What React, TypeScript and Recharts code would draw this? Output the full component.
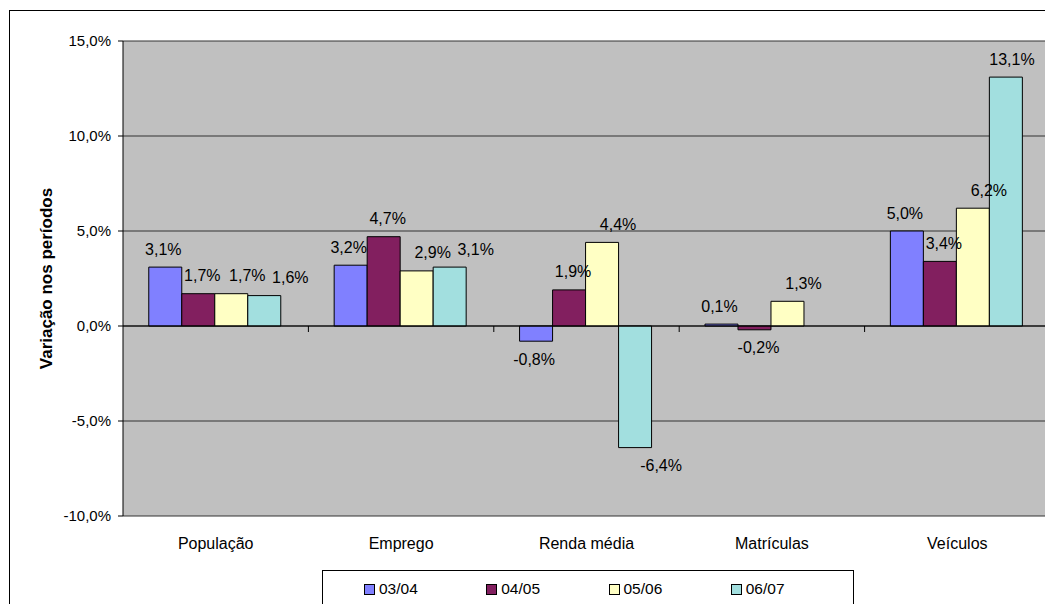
import {
  BarChart,
  Bar,
  XAxis,
  YAxis,
  CartesianGrid,
  Legend,
  LabelList,
  ReferenceLine,
} from "recharts";

const categories = ["População", "Emprego", "Renda média", "Matrículas", "Veículos"];
const periods = ["03/04", "04/05", "05/06", "06/07"];
const v0304 = [3.1, 3.2, -0.8, 0.1, 5.0];
const v0405 = [1.7, 4.7, 1.9, -0.2, 3.4];
const v0506 = [1.7, 2.9, 4.4, 1.3, 6.2];
const v0607 = [1.6, 3.1, -6.4, 0.0, 13.1];
const yTicks = [-10, -5, 0, 5, 10, 15];

const colors = ["#8080FF", "#821F5F", "#FFFFC4", "#A2DFDF"];
// the source drifts its labels rightwards series by series
const labelShift = [-2, 4, 16, 26];
const FONT = '"Liberation Sans", Arial, sans-serif';

const seriesValues = [v0304, v0405, v0506, v0607];
const keys = ["p0", "p1", "p2", "p3"];

const data = categories.map((name, i) => {
  const row: Record<string, string | number> = { name };
  seriesValues.forEach((vals, s) => {
    row[keys[s]] = vals[i];
  });
  return row;
});

const pct = (v: number) => v.toFixed(1).replace(".", ",") + "%";

const makeLabel = (s: number) => (props: any) => {
  const { x, y, width, height, value } = props;
  const top = Math.min(y, y + height);
  const bottom = Math.max(y, y + height);
  const cy = value < 0 ? bottom + 18 : top - 18;
  // keep the last label inside the visible frame
  const cx = Math.min(x + width / 2 + labelShift[s], 1012);
  return (
    <text
      x={cx}
      y={cy}
      textAnchor="middle"
      dominantBaseline="central"
      fontSize={16}
      fontFamily={FONT}
      fill="#000"
    >
      {pct(value)}
    </text>
  );
};

const ZeroAxis = (props: any) => {
  const { x1, y1, x2, y2 } = props;
  const step = (x2 - x1) / categories.length;
  return (
    <g>
      <line x1={x1} y1={y1} x2={x2} y2={y2} stroke="#000" strokeWidth={1} />
      {categories.map((_, k) => (
        <line
          key={k}
          x1={x1 + (k + 1) * step}
          x2={x1 + (k + 1) * step}
          y1={y1}
          y2={y1 + 6}
          stroke="#000"
        />
      ))}
    </g>
  );
};

const AxisTitle = (props: any) => {
  const { viewBox } = props;
  const cx = viewBox.x + 46;
  const cy = viewBox.y + viewBox.height / 2;
  return (
    <text
      x={cx}
      y={cy}
      transform={`rotate(-90 ${cx} ${cy})`}
      textAnchor="middle"
      dominantBaseline="central"
      fontSize={17}
      fontWeight="bold"
      fontFamily={FONT}
      fill="#000"
    >
      Variação nos períodos
    </text>
  );
};

const LegendBox = () => (
  <div
    style={{
      border: "1px solid #000",
      height: 50,
      boxSizing: "border-box",
      paddingLeft: 41,
      paddingTop: 8,
      display: "flex",
      background: "#fff",
    }}
  >
    {periods.map((p, i) => (
      <div
        key={p}
        style={{ width: 128, display: "flex", alignItems: "center", height: 20 }}
      >
        <span
          style={{
            width: 9,
            height: 9,
            border: "1px solid #000",
            background: colors[i],
            marginRight: 4,
            display: "inline-block",
          }}
        />
        <span style={{ fontSize: 15.5, fontFamily: FONT, color: "#000" }}>{p}</span>
      </div>
    ))}
  </div>
);

export default function App() {
  return (
    <div
      style={{
        position: "fixed",
        left: 0,
        top: 0,
        width: 1045,
        height: 604,
        overflow: "hidden",
        background: "#fff",
      }}
    >
      <div
        style={{
          position: "absolute",
          left: 9,
          top: 10,
          width: 1200,
          height: 800,
          border: "1px solid #000",
        }}
      />
      <div style={{ position: "absolute", left: 0, top: 0 }}>
        <BarChart
          width={1070}
          height={640}
          data={data}
          margin={{ top: 41, right: 20, left: 0, bottom: 44 }}
          barCategoryGap="13.9%"
          barGap={0}
        >
          <CartesianGrid
            vertical={false}
            stroke="#333"
            fill="#C0C0C0"
            fillOpacity={1}
          />
          <XAxis
            dataKey="name"
            height={30}
            axisLine={false}
            tickLine={false}
            tickSize={0}
            tickMargin={22}
            tick={{ fontSize: 16, fontFamily: FONT, fill: "#000" }}
          />
          <YAxis
            width={123}
            domain={[-10, 15]}
            ticks={yTicks}
            interval={0}
            allowDataOverflow
            tickFormatter={pct}
            tickSize={5}
            tickMargin={7}
            axisLine={{ stroke: "#000" }}
            tickLine={{ stroke: "#000" }}
            tick={{ fontSize: 15, fontFamily: FONT, fill: "#000" }}
            label={(p: any) => <AxisTitle {...p} />}
          />
          {keys.map((k, s) => (
            <Bar
              key={k}
              dataKey={k}
              name={periods[s]}
              fill={colors[s]}
              stroke="#000"
              strokeWidth={1}
              isAnimationActive={false}
            >
              <LabelList dataKey={k} content={makeLabel(s)} />
            </Bar>
          ))}
          <ReferenceLine y={0} shape={(p: any) => <ZeroAxis {...p} />} />
          <Legend
            layout="vertical"
            align="center"
            verticalAlign="bottom"
            content={() => <LegendBox />}
            wrapperStyle={{ position: "absolute", left: 322, top: 570, width: 532, bottom: "auto" }}
          />
        </BarChart>
      </div>
    </div>
  );
}
